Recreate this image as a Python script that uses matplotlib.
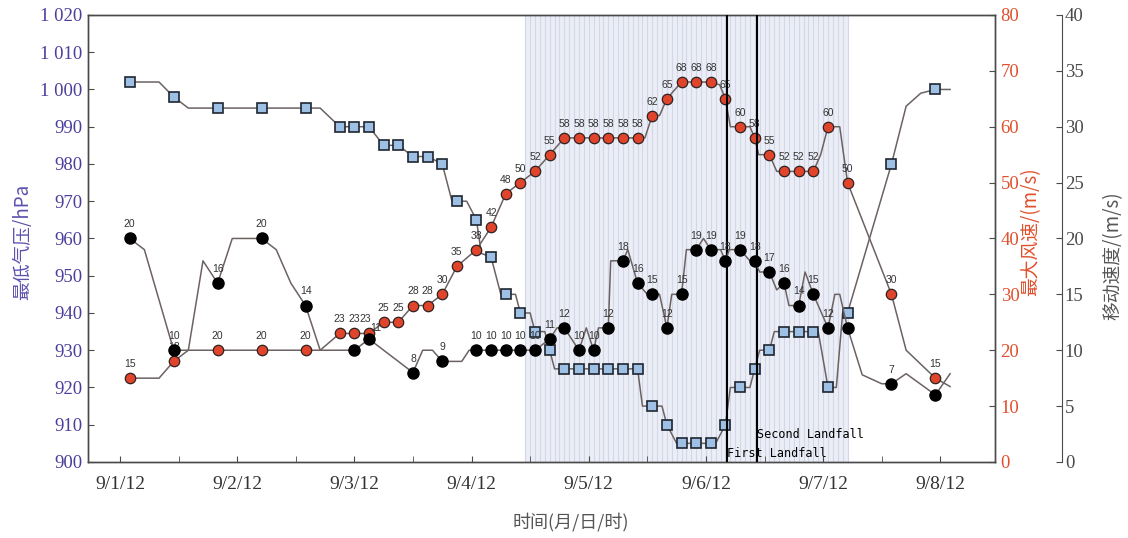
import numpy as np
import matplotlib.pyplot as plt

# time axis: hours after 9/1 12:00
# ---- minimum pressure (hPa) ----
p_t = [2, 8, 11, 14, 41, 45, 51, 54, 57, 60, 63, 66, 68, 71, 73, 74, 76, 78, 81, 82, 84, 85, 87, 88, 89,
       106, 107, 111, 112, 114, 122, 124, 125, 129, 130, 131, 133, 134, 143, 145, 146.7, 148, 149, 158,
       161, 164, 167, 170]
p_v = [1002, 1002, 998, 995, 995, 990, 990, 985, 985, 982, 982, 980, 970, 970, 965, 956, 955, 945, 945,
       940, 940, 935, 935, 930, 925, 925, 915, 915, 910, 905, 905, 910, 920, 920, 925, 930, 930, 935,
       935, 920, 920, 940, 940, 980, 995.5, 999, 1000, 1000]
p_mark_t = [2, 11, 20, 29, 38, 45, 48, 51, 54, 57, 60, 63, 66, 69, 73, 76, 79, 82, 85, 88, 91, 94, 97,
            100, 103, 106, 109, 112, 115, 118, 121, 124, 127, 130, 133, 136, 139, 142, 145, 149, 158, 167]
p_mark_v = [1002, 998, 995, 995, 995, 990, 990, 990, 985, 985, 982, 982, 980, 970, 965, 955, 945, 940,
            935, 930, 925, 925, 925, 925, 925, 925, 915, 910, 905, 905, 905, 910, 920, 925, 930, 935,
            935, 935, 920, 940, 980, 1000]

# ---- maximum wind (m/s) ----
w_t = [2, 8, 11, 14, 41, 45, 51, 54, 57, 60, 63, 66, 69, 73, 76, 79, 82, 85, 88, 91, 106, 107.5, 109,
       110.5, 112, 115, 121, 122.8, 124, 125, 129, 130, 130.8, 133, 134.5, 142, 143.5, 145, 147.4, 149,
       158, 161, 167, 170]
w_v = [15, 15, 18, 20, 20, 23, 23, 25, 25, 28, 28, 30, 35, 38, 42, 48, 50, 52, 55, 58, 58, 58, 62, 62,
       65, 68, 68, 67.5, 65, 60, 60, 58, 55, 55, 52, 52, 55, 60, 60, 50, 30, 20, 15, 13.5]
w_mark_t = [2, 11, 20, 29, 38, 45, 48, 51, 54, 57, 60, 63, 66, 69, 73, 76, 79, 82, 85, 88, 91, 94, 97,
            100, 103, 106, 109, 112, 115, 118, 121, 124, 127, 130, 133, 136, 139, 142, 145, 149, 158, 167]
w_mark_v = [15, 18, 20, 20, 20, 23, 23, 23, 25, 25, 28, 28, 30, 35, 38, 42, 48, 50, 52, 55, 58, 58, 58,
            58, 58, 58, 62, 65, 68, 68, 68, 65, 60, 58, 55, 52, 52, 52, 60, 50, 30, 15]

# ---- moving speed (m/s) ----
s_t = [2, 5, 11, 14, 17, 20, 23, 29, 32, 35, 38, 41, 48, 51, 60, 62, 64, 66, 70, 71.5, 85, 88, 89.5, 91,
       94, 95.5, 97, 98, 100, 100.5, 103, 104, 106, 108, 109, 110.5, 112, 113, 115, 116, 118, 119.5, 121,
       123, 124, 124.8, 127, 129, 130, 131, 133, 134.5, 136, 137, 139, 140.3, 142, 143.7, 145, 146.4,
       147.4, 149, 152, 156, 158, 161, 167, 170]
s_v = [20, 19, 10, 10, 18, 16, 20, 20, 19, 16, 14, 10, 10, 11, 8, 10, 10, 9, 9, 10, 10, 11, 12, 12, 10,
       12, 10, 12, 12, 18, 18, 19, 16, 15, 15, 15, 12, 15, 15, 19, 19, 20, 19, 19, 18, 19, 19, 18, 18,
       17, 17, 15.4, 16, 14, 14, 17, 15, 13.3, 12, 15, 15, 12, 7.8, 7, 7, 7.9, 6, 7.9]
s_mark_t = [2, 11, 20, 29, 38, 48, 51, 60, 66, 73, 76, 79, 82, 85, 88, 91, 94, 97, 100, 103, 106, 109,
            112, 115, 118, 121, 124, 127, 130, 133, 136, 139, 142, 145, 149, 158, 167]
s_mark_v = [20, 10, 16, 20, 14, 10, 11, 8, 9, 10, 10, 10, 10, 10, 11, 12, 10, 10, 12, 18, 16, 15, 12, 15,
            19, 19, 18, 19, 18, 17, 16, 14, 15, 12, 12, 7, 6]
s_labels = ['20', '10', '16', '20', '14', '', '11', '8', '9', '10', '10', '10', '10', '10', '11', '12',
            '10', '10', '12', '18', '16', '15', '12', '15', '19', '19', '18', '19', '18', '17', '16', '14',
            '15', '12', '', '7', '']

x_ticks = [0, 24, 48, 72, 96, 120, 144, 168]
x_labels = ['9/1/12', '9/2/12', '9/3/12', '9/4/12', '9/5/12', '9/6/12', '9/7/12', '9/8/12']
x_minor = [12, 36, 60, 84, 108, 132, 156]

shade = (83, 149.1)
landfall = [124.3, 130.45]

line_c = '#6d6262'
purple = '#4a3f9c'
red = '#e0502c'
gray = '#4a4a4a'

fig = plt.figure(figsize=(11.28, 5.38), dpi=100)
ax = fig.add_axes([0.078, 0.1413, 0.8041, 0.8309])
ax2 = ax.twinx()
ax3 = ax.twinx()
ax3.spines['right'].set_position(('axes', 1.0739))

# shaded period with hourly stripes
ax.axvspan(shade[0], shade[1], color='#eceef6', zorder=0, lw=0)
for h in range(int(shade[0]), int(shade[1]) + 1):
    ax.axvline(h, color='#d3d7e9', lw=0.8, zorder=0.5)

ax.plot(p_t, p_v, color=line_c, lw=1.1, zorder=2)
ax.plot(p_mark_t, p_mark_v, 's', ms=7, mfc='#9ec0e4', mec='#1e2630', mew=1.2, zorder=3)

ax2.plot(w_t, w_v, color=line_c, lw=1.1, zorder=2)
ax2.plot(w_mark_t, w_mark_v, 'o', ms=7.5, mfc='#e0452b', mec='#2e2222', mew=0.9, zorder=3)
for t, v in zip(w_mark_t, w_mark_v):
    dx = -3 if t == 51 else 0
    ax2.annotate(str(v), (t, v), xytext=(dx, 6.5), textcoords='offset points', ha='center',
                 va='bottom', fontsize=7.5, color='#333333', family='Liberation Sans')
for xl in landfall:
    ax2.axvline(xl, color='k', lw=1.5, zorder=5)

ax3.plot(s_t, s_v, color=line_c, lw=1.1, zorder=2)
ax3.plot(s_mark_t, s_mark_v, 'o', ms=8, color='k', zorder=3)
for t, v, lab in zip(s_mark_t, s_mark_v, s_labels):
    if lab:
        dx, dy = (5, 4) if t == 51 else (0, 6.5)
        ax3.annotate(lab, (t, v), xytext=(dx, dy), textcoords='offset points', ha='center',
                     va='bottom', fontsize=7.5, color='#333333', family='Liberation Sans')

ax.text(landfall[0], 900.6, 'First Landfall', family='DejaVu Sans Mono', fontsize=8.5,
        va='bottom', ha='left', zorder=6)
ax.text(landfall[1], 905.6, 'Second Landfall', family='DejaVu Sans Mono', fontsize=8.5,
        va='bottom', ha='left', zorder=6)

ax.set_xlim(-6.55, 179.2)
ax.set_ylim(900, 1020)
ax2.set_ylim(0, 80)
ax3.set_ylim(0, 40)

ax.set_xticks(x_ticks)
ax.set_xticklabels(x_labels, family='Liberation Serif', fontsize=14, color='#333333')
ax.set_xticks(x_minor, minor=True)
ax.tick_params(axis='x', which='both', direction='in', length=4, color=gray, pad=10)

yt = list(range(900, 1021, 10))
ax.set_yticks(yt)
ax.set_yticklabels([f'{v:,}'.replace(',', ' ') for v in yt], family='Liberation Serif',
                   fontsize=13.5, color=purple)
ax.tick_params(axis='y', direction='in', length=4, color=gray, pad=4)

ax2.set_yticks(range(0, 81, 10))
ax2.set_yticklabels([str(v) for v in range(0, 81, 10)], family='Liberation Serif', fontsize=13.5,
                    color=red)
ax2.tick_params(axis='y', direction='in', length=4, color=gray, pad=4)

ax3.set_yticks(range(0, 41, 5))
ax3.set_yticklabels([str(v) for v in range(0, 41, 5)], family='Liberation Serif', fontsize=13.5,
                    color=gray)
ax3.tick_params(axis='y', direction='in', length=4, color=gray, pad=2)

for a in (ax, ax2):
    for s in a.spines.values():
        s.set_color(gray)
        s.set_linewidth(1.0)
for k, s in ax3.spines.items():
    s.set_visible(k == 'right')
    s.set_color(gray)

cjk = ['Noto Sans CJK SC', 'DejaVu Sans']
fig.text(0.020, 0.55, '最低气压/hPa', rotation=90, va='center', ha='center', fontsize=13.5,
         color='#5d52ae', family=cjk)
fig.text(0.914, 0.57, '最大风速/(m/s)', rotation=90, va='center', ha='center', fontsize=13.5,
         color=red, family=cjk)
fig.text(0.987, 0.525, '移动速度/(m/s)', rotation=90, va='center', ha='center', fontsize=13.5,
         color='#555555', family=cjk)
fig.text(0.506, 0.03, '时间(月/日/时)', va='center', ha='center', fontsize=13, color='#555555',
         family=cjk)

fig.savefig('out.png', dpi=100)
